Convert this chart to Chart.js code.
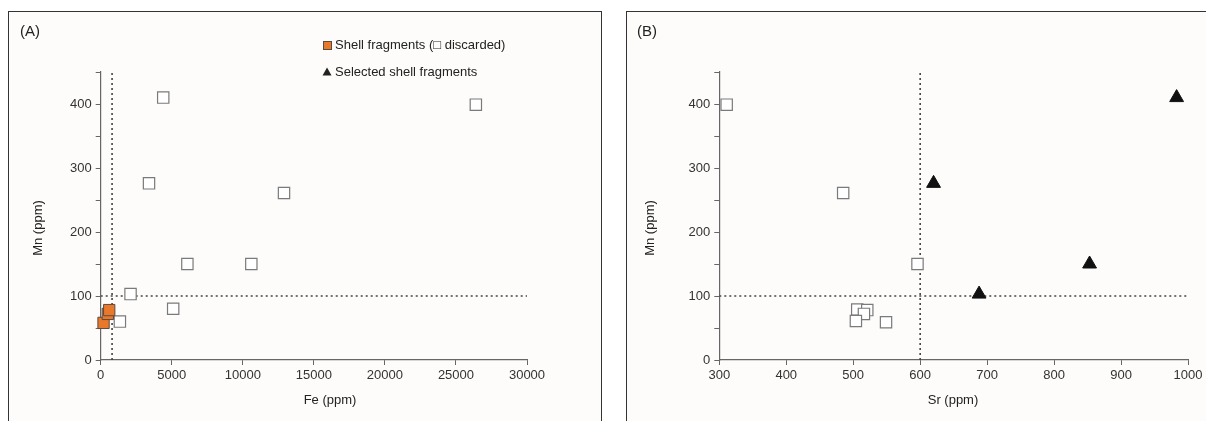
<!DOCTYPE html>
<html>
<head>
<meta charset="utf-8">
<script src="https://cdn.jsdelivr.net/npm/chart.js@4/dist/chart.umd.min.js"></script>
<style>
  html, body { margin: 0; padding: 0; background: #ffffff; width: 1206px; height: 421px; overflow: hidden; position: relative; }
  .panel { position: absolute; background: #fdfcfa; box-sizing: border-box; }
  #pA { left: 8px; top: 11px; width: 594px; height: 430px; border: 1px solid #333; border-bottom: none; }
  #pB { left: 626px; top: 11px; width: 600px; height: 430px; border-top: 1px solid #333; border-left: 1px solid #333; }
  canvas { position: absolute; top: 0; }
  #cA { left: 0; }
  #cB { left: 603px; }
</style>
</head>
<body>
<div class="panel" id="pA"></div>
<div class="panel" id="pB"></div>
<canvas id="cA" width="603" height="421"></canvas>
<canvas id="cB" width="603" height="421"></canvas>
<script>
// ---- Panel A data (Fe vs Mn) ----
const feShell = [200, 500, 600];
const mnShell = [58, 72, 78];
const feDiscarded = [4400, 26400, 3400, 12900, 6100, 10600, 2100, 5100, 1350];
const mnDiscarded = [410, 399, 276, 261, 150, 150, 103, 80, 60];
const feThreshold = [800];
const mnThreshold = [100];
const feTicks = [0, 5000, 10000, 15000, 20000, 25000, 30000];

// ---- Panel B data (Sr vs Mn) ----
const srDiscarded = [311, 485, 596, 506, 521, 516, 504, 549];
const mnDiscardedB = [399, 261, 150, 79, 78, 72, 61, 59];
const srSelected = [620, 688, 853, 983];
const mnSelected = [276, 103, 150, 410];
const srThreshold = [600];
const srTicks = [300, 400, 500, 600, 700, 800, 900, 1000];
const mnTicks = [0, 100, 200, 300, 400];

const FONT = '"Liberation Sans", Arial, sans-serif';
const pts = (xs, ys) => xs.map((x, i) => ({ x: x, y: ys[i] }));

function yScale(afterWidth) {
  return {
    type: 'linear', min: 0, max: 450,
    afterFit: s => { s.width = afterWidth; },
    ticks: {
      stepSize: 50, autoSkip: false, padding: 4, color: '#333',
      font: { family: FONT, size: 13 },
      callback: v => (mnTicks.includes(v) ? String(v) : '')
    },
    grid: { display: true, drawOnChartArea: false, drawTicks: true, tickLength: 5, tickColor: '#666', color: '#666' },
    border: { display: true, color: '#666', width: 1.2 }
  };
}
function xScale(min, max, step, tickList) {
  return {
    type: 'linear', min: min, max: max,
    afterFit: s => { s.height = 40; },
    ticks: {
      stepSize: step, autoSkip: false, maxRotation: 0, padding: 3, color: '#333',
      font: { family: FONT, size: 13 },
      callback: v => (tickList.includes(v) ? String(v) : '')
    },
    grid: { display: true, drawOnChartArea: false, drawTicks: true, tickLength: 5, tickColor: '#666', color: '#666' },
    border: { display: true, color: '#666', width: 1.2 }
  };
}
function refLine(data) {
  return {
    type: 'line', data: data, showLine: true, pointRadius: 0, pointHoverRadius: 0,
    borderColor: '#444', borderWidth: 1.6, borderDash: [2, 3], fill: false, order: 5
  };
}
function textPlugin(drawFn) {
  return { id: 'texts' + Math.random().toString(36).slice(2), afterDraw: chart => { const c = chart.ctx; c.save(); drawFn(c); c.restore(); } };
}

// ---- Chart A ----
new Chart(document.getElementById('cA'), {
  type: 'scatter',
  data: {
    datasets: [
      refLine([{ x: feThreshold[0], y: 0 }, { x: feThreshold[0], y: 450 }]),
      refLine([{ x: 0, y: mnThreshold[0] }, { x: 30000, y: mnThreshold[0] }]),
      { label: 'discarded', data: pts(feDiscarded, mnDiscarded), pointStyle: 'rect', pointRadius: 8,
        backgroundColor: '#ffffff', borderColor: '#7a7a7a', borderWidth: 1.2, order: 2, clip: false },
      { label: 'Shell fragments', data: pts(feShell, mnShell), pointStyle: 'rect', pointRadius: 8,
        backgroundColor: '#e8792b', borderColor: '#5a4a40', borderWidth: 1, order: 1, clip: false }
    ]
  },
  options: {
    responsive: false, animation: false, devicePixelRatio: 1,
    layout: { padding: { left: 60, right: 76, top: 72, bottom: 21 } },
    plugins: { legend: { display: false }, tooltip: { enabled: false } },
    scales: { x: xScale(0, 30000, 5000, feTicks), y: yScale(40.7) }
  },
  plugins: [textPlugin(c => {
    c.fillStyle = '#222';
    c.textBaseline = 'middle';
    c.font = '15px ' + FONT; c.textAlign = 'left';
    c.fillText('(A)', 20, 32);
    c.font = '13px ' + FONT; c.textAlign = 'center';
    c.fillText('Fe (ppm)', 330, 400);
    c.save(); c.translate(38, 228); c.rotate(-Math.PI / 2); c.fillText('Mn (ppm)', 0, 0); c.restore();
    // legend
    c.fillStyle = '#e8792b'; c.fillRect(323, 41, 9, 9);
    c.strokeStyle = '#5a4a40'; c.lineWidth = 1; c.strokeRect(323.5, 41.5, 8, 8);
    c.fillStyle = '#222'; c.textAlign = 'left';
    c.fillText('Shell fragments (\u25A1 discarded)', 335, 45.5);
    c.beginPath(); c.moveTo(327, 67.5); c.lineTo(331.5, 75.5); c.lineTo(322.5, 75.5); c.closePath(); c.fill();
    c.fillText('Selected shell fragments', 335, 72);
  })]
});

// ---- Chart B ----
new Chart(document.getElementById('cB'), {
  type: 'scatter',
  data: {
    datasets: [
      refLine([{ x: srThreshold[0], y: 0 }, { x: srThreshold[0], y: 450 }]),
      refLine([{ x: 300, y: mnThreshold[0] }, { x: 1000, y: mnThreshold[0] }]),
      { label: 'discarded', data: pts(srDiscarded, mnDiscardedB), pointStyle: 'rect', pointRadius: 8,
        backgroundColor: '#ffffff', borderColor: '#7a7a7a', borderWidth: 1.2, order: 2, clip: false },
      { label: 'Selected shell fragments', data: pts(srSelected, mnSelected), pointStyle: 'triangle', pointRadius: 8,
        backgroundColor: '#111111', borderColor: '#111111', borderWidth: 1, order: 1, clip: false }
    ]
  },
  options: {
    responsive: false, animation: false, devicePixelRatio: 1,
    layout: { padding: { left: 70, right: 18, top: 72, bottom: 21 } },
    plugins: { legend: { display: false }, tooltip: { enabled: false } },
    scales: { x: xScale(300, 1000, 100, srTicks), y: yScale(46.3) }
  },
  plugins: [textPlugin(c => {
    c.fillStyle = '#222';
    c.textBaseline = 'middle';
    c.font = '15px ' + FONT; c.textAlign = 'left';
    c.fillText('(B)', 34, 32);
    c.font = '13px ' + FONT; c.textAlign = 'center';
    c.fillText('Sr (ppm)', 350, 400);
    c.save(); c.translate(47, 228); c.rotate(-Math.PI / 2); c.fillText('Mn (ppm)', 0, 0); c.restore();
  })]
});
</script>
</body>
</html>
